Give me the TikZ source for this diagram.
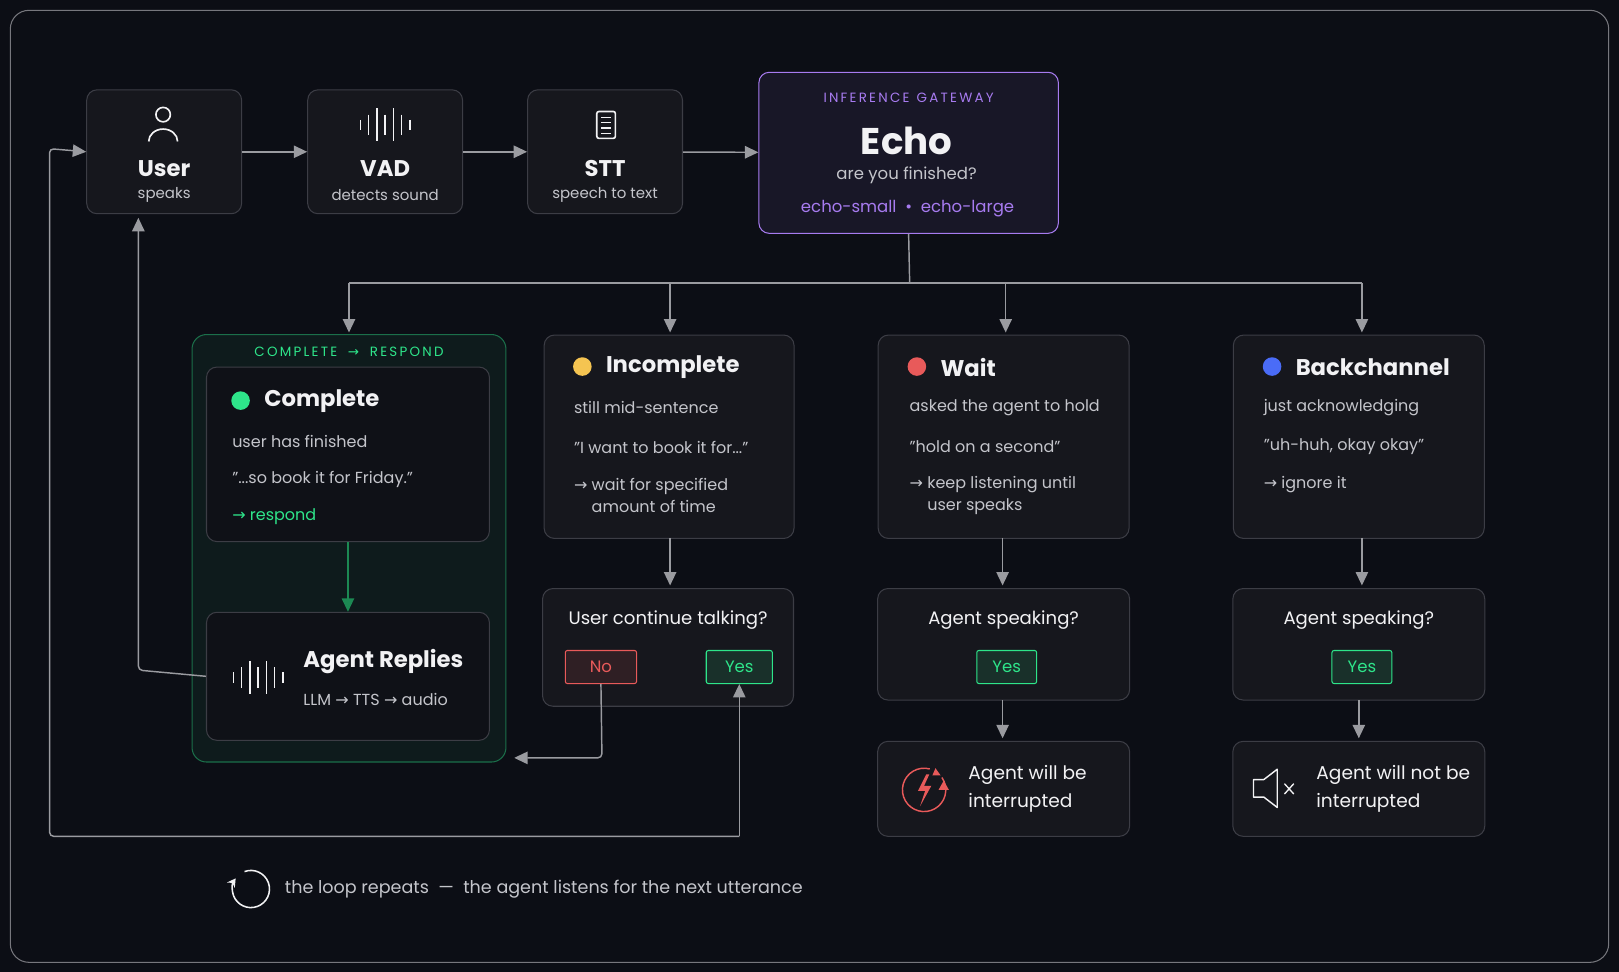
\documentclass[tikz,border=0pt]{standalone}
\usepackage{fontspec}
\setmainfont{Poppins}
\newfontfamily\symfont{DejaVu Sans}
\usetikzlibrary{positioning,arrows.meta}
\newcommand{\arr}{{\symfont →}}
\definecolor{bgc}{HTML}{0C0E15}
\definecolor{cardc}{HTML}{16171D}
\definecolor{edgec}{HTML}{3C3D45}
\definecolor{txtc}{HTML}{F2F2F4}
\definecolor{subc}{HTML}{C4C5CB}
\definecolor{linec}{HTML}{9A9BA0}
\definecolor{purp}{HTML}{A77BF0}
\definecolor{grn}{HTML}{2EE58A}
\definecolor{ylw}{HTML}{F5C451}
\definecolor{rd}{HTML}{E85A5A}
\definecolor{blu}{HTML}{4A6CF7}
\tikzset{every picture/.style={line width=1.2pt}}
\tikzset{
  card/.style={draw=edgec, fill=cardc, rounded corners=10pt, line width=1pt},
  flow/.style={draw=linec, line width=1.4pt, -{Triangle[length=13pt,width=12pt]}},
  btn/.style={draw=#1, fill=#1!12!cardc, rounded corners=2pt, line width=1pt, minimum width=62pt, minimum height=32pt, text=#1, font=\fontsize{16}{18}\selectfont},
  ttl/.style={text=txtc, font=\fontsize{22}{24}\selectfont\bfseries},
  sub/.style={text=subc, font=\fontsize{14.5}{17}\selectfont},
  body/.style={text=subc, font=\fontsize{15.5}{23}\selectfont, anchor=west, align=left},
}
\begin{document}
\begin{tikzpicture}[x=1pt,y=-1pt]
	\useasboundingbox (0,0) rectangle (1568,941);
	\fill[bgc] (0,0) rectangle (1568,941);
	\draw[edgec!70, line width=1pt, rounded corners=18pt] (10,10) rectangle (1558,932);
	
	% top row
	\node[card, minimum width=150pt, minimum height=120pt] (user) at (159,147) {};
	\node[card, minimum width=150pt, minimum height=120pt] (vad) at (373,147) {};
	\node[card, minimum width=150pt, minimum height=120pt] (stt) at (586,147) {};
	\node[card, draw=purp, fill=purp!8!bgc, minimum width=290pt, minimum height=156pt] (echo) at (880,148) {};
	
	\node[ttl] at (159,163) {User};
	\node[sub] at (159,189) {speaks};
	\node[ttl] at (373,163) {VAD};
	\node[sub] at (373,189) {detects sound};
	\node[ttl] at (586,163) {STT};
	\node[sub] at (586,189) {speech to text};
	\node[text=purp, font=\fontsize{13}{15}\selectfont] at (880,95) {I\,N\,F\,E\,R\,E\,N\,C\,E\ \ G\,A\,T\,E\,W\,A\,Y};
	\node[text=txtc, font=\fontsize{36}{38}\selectfont\bfseries] at (878,136) {Echo};
	\node[sub, font=\fontsize{16}{18}\selectfont] at (878,170) {are you finished?};
	\node[text=purp, font=\fontsize{16}{18}\selectfont] at (879,202) {echo-small\ \ \textbullet\ \ echo-large};
	
	% icons
	\draw[txtc, line width=1.6pt] (158,111) circle (7pt);
	\draw[txtc, line width=1.6pt] (144,137) arc (180:360:14 and 12);
	\foreach \dx/\h in {-24/5,-16/10,-8/16,0/10,8/16,16/10,24/5}
	  \draw[txtc, line width=1.6pt] (373+\dx,121-\h) -- (373+\dx,121+\h);
	\draw[txtc, line width=1.6pt, rounded corners=2pt] (578,108) rectangle (596,134);
	\foreach \yy in {114,119,124,129} \draw[txtc, line width=1.2pt] (582,\yy) -- (592,\yy);
	
	% top arrows
	\draw[flow] (user) -- (vad);
	\draw[flow] (vad) -- (stt);
	\draw[flow] (stt) -- (echo);
	
	% branch
	\coordinate (split) at (881,274);
	\draw[linec, line width=1.4pt] (echo.south) -- (split);
	\draw[linec, line width=1.4pt] (338,274) -- (1319,274);
	\foreach \xx in {338,649,974,1319}
	  \draw[flow] (\xx,274) -- (\xx,322);
	
	% complete group
	\node[draw=grn!45!bgc, fill=grn!6!bgc, rounded corners=14pt, line width=1pt, minimum width=304pt, minimum height=414pt] (grp) at (338,531) {};
	\node[text=grn, font=\fontsize{13}{15}\selectfont] at (338,341) {C\,O\,M\,P\,L\,E\,T\,E\ \ \ \arr\ \ \ R\,E\,S\,P\,O\,N\,D};
	\node[card, fill=bgc!70!cardc, minimum width=274pt, minimum height=169pt] (comp) at (337,440) {};
	\fill[grn] (233,388) circle (9pt);
	\node[ttl, anchor=west] at (252,388) {Complete};
	\node[body] at (221,428) {user has finished};
	\node[body] at (221,464) {"...so book it for Friday."};
	\node[body, text=grn] at (221,500) {\arr\ respond};
	\node[card, fill=bgc!70!cardc, minimum width=274pt, minimum height=124pt] (reply) at (337,655) {};
	\node[ttl, anchor=west] at (290,641) {Agent Replies};
	\node[body] at (290,677) {LLM \arr\ TTS \arr\ audio};
	\foreach \dx/\h in {-24/5,-16/10,-8/16,0/10,8/16,16/10,24/5}
	  \draw[txtc, line width=1.6pt] (250+\dx,656-\h) -- (250+\dx,656+\h);
	\draw[draw=grn!60!black, line width=1.4pt, -{Triangle[length=13pt,width=12pt]}, fill=grn!60!black] (comp) -- (reply);
	
	% incomplete / wait / backchannel
	\node[card, minimum width=242pt, minimum height=197pt] (inc) at (648,423) {};
	\fill[ylw] (564,355) circle (9pt);
	\node[ttl, anchor=west] at (583,356) {Incomplete};
	\node[body] at (552,395) {still mid-sentence};
	\node[body] at (552,433) {"I want to book it for..."};
	\node[body] at (552,480) {\arr\ wait for specified\\[-2pt]\hphantom{\arr\ }amount of time};
	
	\node[card, minimum width=243pt, minimum height=197pt] (wait) at (972,423) {};
	\fill[rd] (888,355) circle (9pt);
	\node[ttl, anchor=west] at (907,356) {Wait};
	\node[body] at (877,395) {asked the agent to hold};
	\node[body] at (877,433) {"hold on a second"};
	\node[body] at (877,480) {\arr\ keep listening until\\[-2pt]\hphantom{\arr\ }user speaks};
	
	\node[card, minimum width=243pt, minimum height=197pt] (back) at (1316,423) {};
	\fill[blu] (1232,355) circle (9pt);
	\node[ttl, anchor=west] at (1251,356) {Backchannel};
	\node[body] at (1220,395) {just acknowledging};
	\node[body] at (1220,433) {"uh-huh, okay okay"};
	\node[body] at (1220,469) {\arr\ ignore it};
	
	% questions
	\node[card, minimum width=243pt, minimum height=114pt] (q1) at (647,627) {};
	\node[text=txtc, font=\fontsize{17.5}{20}\selectfont] at (647,601) {User continue talking?};
	\node[btn=rd, minimum width=69pt] (no) at (582,646) {No};
	\node[btn=grn, minimum width=64pt] (yes1) at (716,646) {Yes};
	
	\node[card, minimum width=244pt, minimum height=108pt] (q2) at (972,624) {};
	\node[text=txtc, font=\fontsize{17.5}{20}\selectfont] at (972,601) {Agent speaking?};
	\node[btn=grn, minimum width=58pt] (yes2) at (975,646) {Yes};
	
	\node[card, minimum width=244pt, minimum height=108pt] (q3) at (1316,624) {};
	\node[text=txtc, font=\fontsize{17.5}{20}\selectfont] at (1316,601) {Agent speaking?};
	\node[btn=grn, minimum width=58pt] (yes3) at (1319,646) {Yes};
	
	\draw[flow] (649,521) -- (649,567);
	\draw[flow] (971,521) -- (971,567);
	\draw[flow] (1319,521) -- (1319,567);
	
	% results
	\node[card, minimum width=244pt, minimum height=92pt] (intr) at (972,764) {};
	\node[text=txtc, font=\fontsize{18}{27}\selectfont, anchor=west, align=left] at (934,764) {Agent will be\\interrupted};
	\draw[rd, line width=1.4pt] (895,765) ++(-75:21) arc (-75:-395:21);
	\fill[rd] (897,750) -- (889,766) -- (896,766) -- (891,781) -- (902,761) -- (895,761) -- (900,750) -- cycle;
	\fill[rd] (914,756) -- (919,765) -- (909,765) -- cycle;
	\fill[rd] (906,744) -- (911,751) -- (903,751) -- cycle;
	
	\node[card, minimum width=244pt, minimum height=92pt] (nint) at (1316,764) {};
	\node[text=txtc, font=\fontsize{18}{27}\selectfont, anchor=west, align=left] at (1271,764) {Agent will not be\\interrupted};
	\draw[txtc, line width=1.4pt, line join=round] (1214,755) -- (1224,755) -- (1237,745) -- (1237,782) -- (1224,772) -- (1214,772) -- cycle;
	\draw[txtc, line width=1.3pt] (1244,759) -- (1253,769) (1244,769) -- (1253,759);
	
	\draw[flow] (971,678) -- (971,715);
	\draw[flow] (1316,678) -- (1316,715);
	
	% loop-back connectors
	\coordinate (noturn) at (583,734);
	\coordinate (noend) at (498,734);
	\draw[flow, rounded corners=4pt] (no.south) -- (noturn) -- (noend);
	\coordinate (yb) at (716,810);
	\coordinate (lb) at (48,810);
	\coordinate (lt) at (48,144);
	\draw[flow, rounded corners=4pt] (yb) -- (yes1.south);
	\draw[flow, rounded corners=4pt] (yb) -- (lb) -- (lt) -- (user.west);
	\coordinate (rc) at (134,649);
	\draw[flow, rounded corners=4pt] (reply.west) -- (rc) -- (134,211);
	
	% footer
	\draw[txtc, line width=1.5pt, -{Stealth[length=8pt,width=9pt]}] (243,861) ++(-110:18) arc (-110:215:18);
	\node[text=subc, font=\fontsize{17}{20}\selectfont, anchor=west] at (272,861) {the loop repeats\ \ —\ \ the agent listens for the next utterance};
\end{tikzpicture}
\end{document}
